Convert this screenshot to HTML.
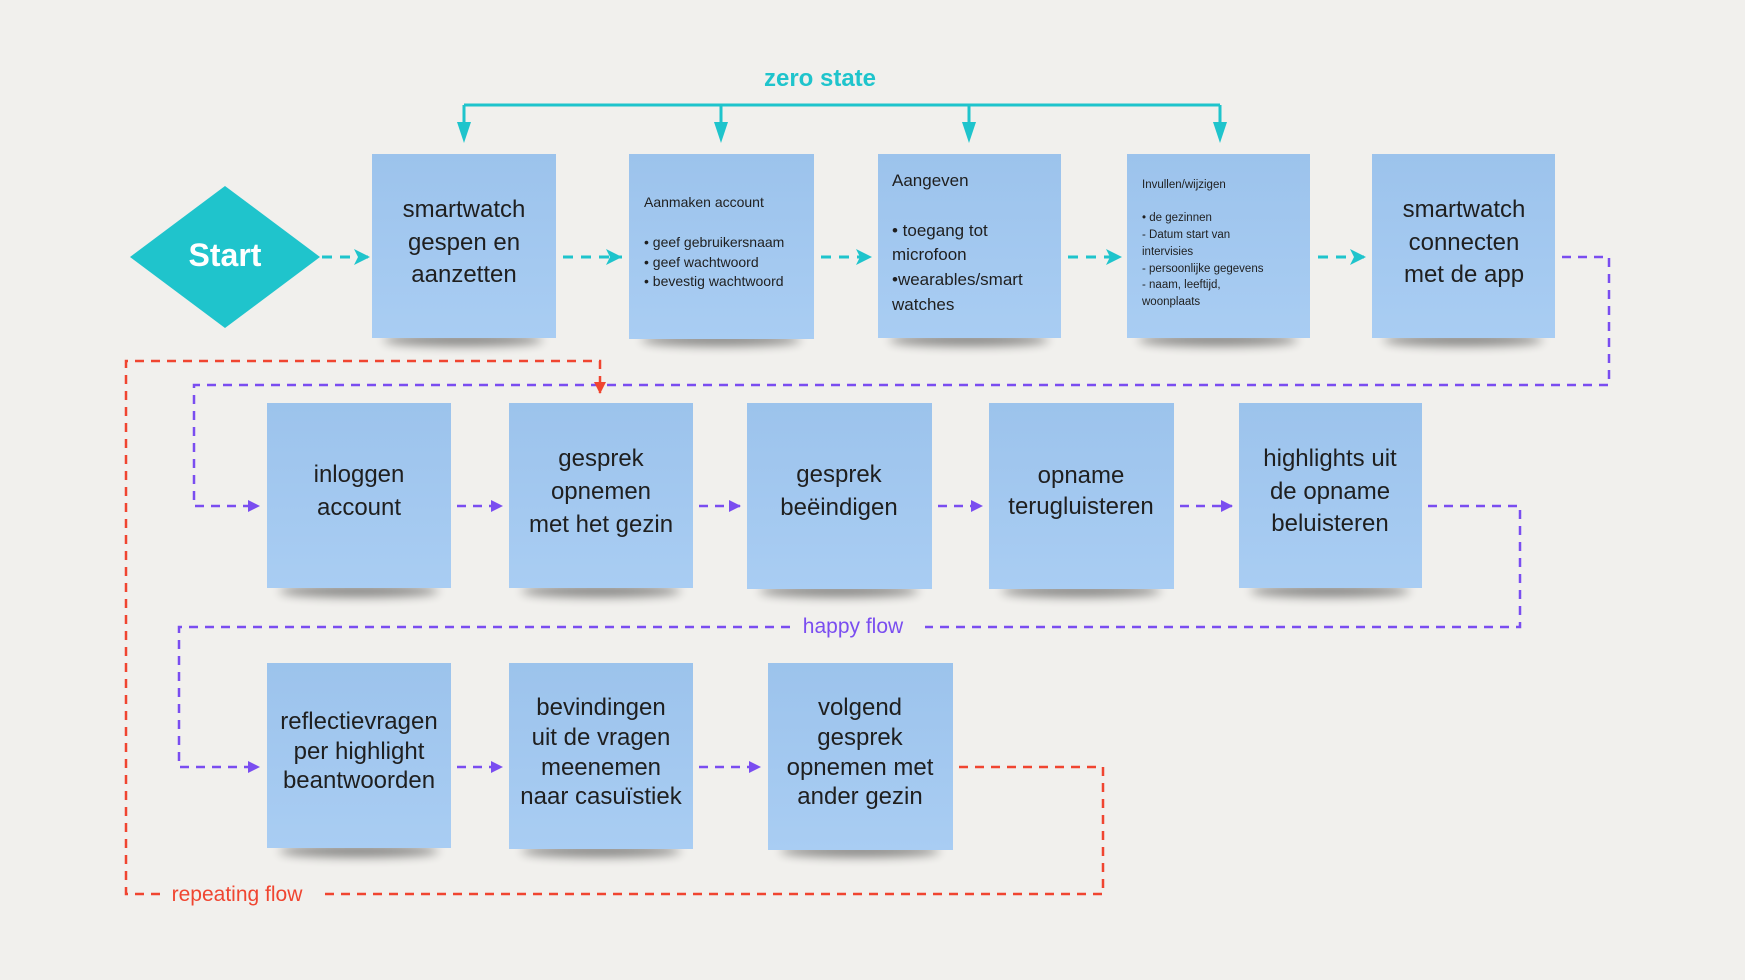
<!DOCTYPE html>
<html><head><meta charset="utf-8"><style>
html,body{margin:0;padding:0;background:#f1f0ed;}
svg{display:block;font-family:"Liberation Sans",sans-serif;}
.t{fill:#1f1f1f;text-anchor:middle;font-size:24px;}
.s{fill:#1f1f1f;font-size:14px;}
.x{fill:#1f1f1f;font-size:11.5px;}
</style></head><body>
<svg width="1745" height="980" viewBox="0 0 1745 980" xmlns="http://www.w3.org/2000/svg">
<defs>
<linearGradient id="g" x1="0" y1="0" x2="0" y2="1"><stop offset="0" stop-color="#9cc3ec"/><stop offset="1" stop-color="#a9cdf3"/></linearGradient>
<filter id="b" x="-20%" y="-200%" width="140%" height="500%"><feGaussianBlur stdDeviation="5"/></filter>
<marker id="at" markerWidth="16" markerHeight="16" refX="16" refY="8" orient="auto" markerUnits="userSpaceOnUse"><path d="M0,0 L16,8 L0,16 L4,8 z" fill="#1fc4cc"/></marker>
<marker id="ap" markerWidth="12" markerHeight="12" refX="11" refY="6" orient="auto" markerUnits="userSpaceOnUse"><path d="M0,0 L12,6 L0,12 z" fill="#7a4df0"/></marker>
<marker id="ar" markerWidth="12" markerHeight="12" refX="11" refY="6" orient="auto" markerUnits="userSpaceOnUse"><path d="M0,0 L12,6 L0,12 z" fill="#f04530"/></marker>
</defs>

<g fill="#000" opacity="0.45" filter="url(#b)">
<ellipse cx="463" cy="340" rx="80" ry="6"/><ellipse cx="721" cy="340" rx="80" ry="6"/><ellipse cx="969" cy="340" rx="80" ry="6"/><ellipse cx="1218" cy="340" rx="80" ry="6"/><ellipse cx="1463" cy="340" rx="80" ry="6"/>
<ellipse cx="359" cy="591" rx="80" ry="6"/><ellipse cx="601" cy="591" rx="80" ry="6"/><ellipse cx="839" cy="591" rx="80" ry="6"/><ellipse cx="1081" cy="591" rx="80" ry="6"/><ellipse cx="1330" cy="591" rx="80" ry="6"/>
<ellipse cx="359" cy="851" rx="80" ry="6"/><ellipse cx="601" cy="851" rx="80" ry="6"/><ellipse cx="860" cy="851" rx="80" ry="6"/>
</g>

<text x="820" y="86" text-anchor="middle" font-size="24" font-weight="bold" fill="#1fc4cc">zero state</text>
<g stroke="#1fc4cc" stroke-width="3" fill="none">
<path d="M464,105 H1220"/>
<path d="M464,105 V126"/><path d="M721,105 V126"/><path d="M969,105 V126"/><path d="M1220,105 V126"/>
</g>
<g fill="#1fc4cc">
<polygon points="457,122 471,122 464,143"/><polygon points="714,122 728,122 721,143"/><polygon points="962,122 976,122 969,143"/><polygon points="1213,122 1227,122 1220,143"/>
</g>

<polygon points="225,186 320,257 225,328 130,257" fill="#1fc4cc"/>
<text x="225" y="266" text-anchor="middle" font-size="32" font-weight="bold" fill="#fff">Start</text>

<g stroke="#1fc4cc" stroke-width="3" stroke-dasharray="10,8" fill="none">
<path d="M322,257 H370" marker-end="url(#at)"/>
<path d="M563,257 H622" marker-end="url(#at)"/>
<path d="M821,257 H872" marker-end="url(#at)"/>
<path d="M1068,257 H1122" marker-end="url(#at)"/>
<path d="M1318,257 H1366" marker-end="url(#at)"/>
</g>

<g stroke="#7a4df0" stroke-width="2.5" stroke-dasharray="9,7" fill="none">
<path d="M1562,257 H1609 V385 H194 V506 H259" marker-end="url(#ap)"/>
<path d="M457,506 H502" marker-end="url(#ap)"/>
<path d="M699,506 H740" marker-end="url(#ap)"/>
<path d="M938,506 H982" marker-end="url(#ap)"/>
<path d="M1180,506 H1232" marker-end="url(#ap)"/>
<path d="M1428,506 H1520 V627 H925 M790,627 H179 V767 H259" marker-end="url(#ap)"/>
<path d="M457,767 H502" marker-end="url(#ap)"/>
<path d="M699,767 H760" marker-end="url(#ap)"/>
</g>
<text x="853" y="633" text-anchor="middle" font-size="21" fill="#7a4df0">happy flow</text>

<g stroke="#f04530" stroke-width="2.5" stroke-dasharray="9,7" fill="none">
<path d="M959,767 H1103 V894 H318 M160,894 H126 V361 H600 V393" marker-end="url(#ar)"/>
</g>
<text x="237" y="901" text-anchor="middle" font-size="21" fill="#f04530">repeating flow</text>

<g fill="url(#g)">
<rect x="372" y="154" width="184" height="184"/><rect x="629" y="154" width="185" height="185"/><rect x="878" y="154" width="183" height="184"/><rect x="1127" y="154" width="183" height="184"/><rect x="1372" y="154" width="183" height="184"/>
<rect x="267" y="403" width="184" height="185"/><rect x="509" y="403" width="184" height="185"/><rect x="747" y="403" width="185" height="186"/><rect x="989" y="403" width="185" height="186"/><rect x="1239" y="403" width="183" height="185"/>
<rect x="267" y="663" width="184" height="185"/><rect x="509" y="663" width="184" height="186"/><rect x="768" y="663" width="185" height="187"/>
</g>

<text class="t" x="464" y="217">smartwatch</text><text class="t" x="464" y="250">gespen en</text><text class="t" x="464" y="282">aanzetten</text>
<text class="s" x="644" y="207">Aanmaken account</text>
<text class="s" x="644" y="247">• geef gebruikersnaam</text><text class="s" x="644" y="267">• geef wachtwoord</text><text class="s" x="644" y="286">• bevestig wachtwoord</text>
<text x="892" y="186" font-size="17" fill="#1f1f1f">Aangeven</text>
<text x="892" y="236" font-size="17" fill="#1f1f1f">• toegang tot</text><text x="892" y="260" font-size="17" fill="#1f1f1f">microfoon</text><text x="892" y="285" font-size="17" fill="#1f1f1f">•wearables/smart</text><text x="892" y="310" font-size="17" fill="#1f1f1f">watches</text>
<text class="x" x="1142" y="188">Invullen/wijzigen</text>
<text class="x" x="1142" y="221">• de gezinnen</text><text class="x" x="1142" y="238">- Datum start van</text><text class="x" x="1142" y="255">intervisies</text><text class="x" x="1142" y="272">- persoonlijke gegevens</text><text class="x" x="1142" y="288">   - naam, leeftijd,</text><text class="x" x="1142" y="305">woonplaats</text>
<text class="t" x="1464" y="217">smartwatch</text><text class="t" x="1464" y="250">connecten</text><text class="t" x="1464" y="282">met de app</text>

<text class="t" x="359" y="482">inloggen</text><text class="t" x="359" y="515">account</text>
<text class="t" x="601" y="466">gesprek</text><text class="t" x="601" y="499">opnemen</text><text class="t" x="601" y="532">met het gezin</text>
<text class="t" x="839" y="482">gesprek</text><text class="t" x="839" y="515">beëindigen</text>
<text class="t" x="1081" y="483">opname</text><text class="t" x="1081" y="514">terugluisteren</text>
<text class="t" x="1330" y="466">highlights uit</text><text class="t" x="1330" y="499">de opname</text><text class="t" x="1330" y="531">beluisteren</text>

<text class="t" x="359" y="729" font-size="22">reflectievragen</text><text class="t" x="359" y="759" font-size="22">per highlight</text><text class="t" x="359" y="788" font-size="22">beantwoorden</text>
<text class="t" x="601" y="715" font-size="22">bevindingen</text><text class="t" x="601" y="745" font-size="22">uit de vragen</text><text class="t" x="601" y="775" font-size="22">meenemen</text><text class="t" x="601" y="804" font-size="22">naar casuïstiek</text>
<text class="t" x="860" y="715" font-size="22">volgend</text><text class="t" x="860" y="745" font-size="22">gesprek</text><text class="t" x="860" y="775" font-size="22">opnemen met</text><text class="t" x="860" y="804" font-size="22">ander gezin</text>
</svg>
</body></html>
